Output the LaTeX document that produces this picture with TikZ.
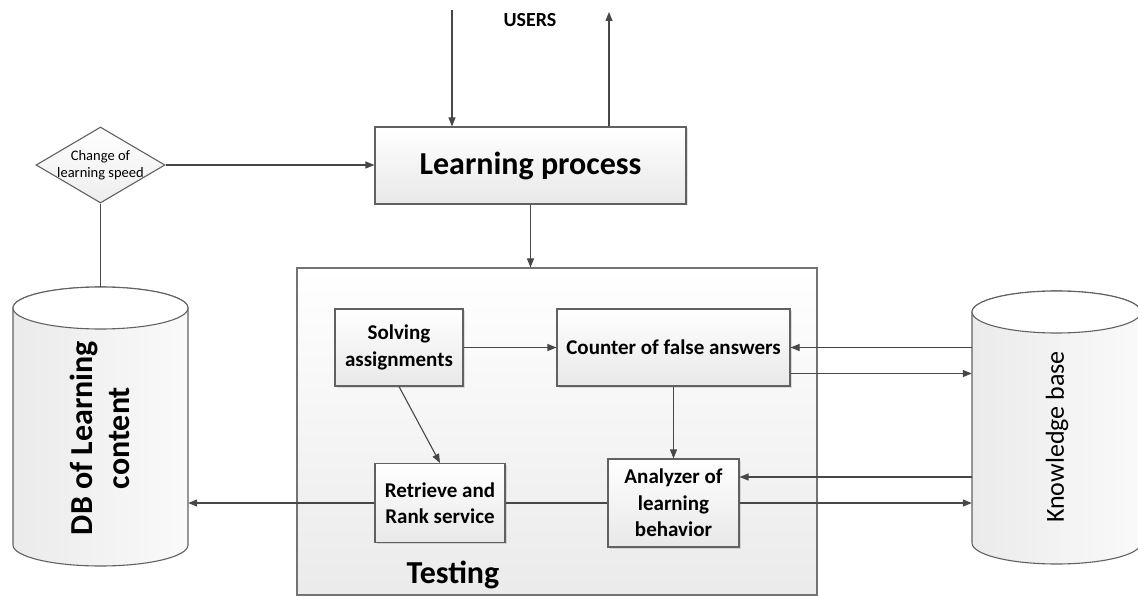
\documentclass[tikz,border=0pt]{standalone}
\usepackage{fontspec}
\setmainfont{Carlito}
\usetikzlibrary{arrows.meta,shapes.geometric,calc,shadows}
\begin{document}
\begin{tikzpicture}[x=1pt,y=-1pt,
  line/.style={draw=black!72, line width=1.1pt},
  arr/.style={line, -{Triangle[length=9pt,width=7pt]}},
  box/.style={draw=black!62, line width=1.1pt, top color=white, bottom color=gray!18,
    inner sep=0pt, align=center, font=\fontsize{21}{26.5}\selectfont\bfseries,
    drop shadow={opacity=0.25, shadow xshift=1.5pt, shadow yshift=-1.5pt}},
  cyl/.style={draw=black!62, line width=1.1pt, left color=gray!16, right color=gray!4},
  ghost/.style={inner sep=0pt, draw=none},
]
\useasboundingbox (0,0) rectangle (1138,596);

% Testing container
\node[draw=black!55, line width=1.1pt, top color=white, bottom color=gray!16,
  minimum width=520pt, minimum height=327pt, inner sep=0pt] (test) at (557,431.5) {};
\node[font=\fontsize{32}{36}\selectfont\bfseries] (tlabel) at (453,575) {Testing};

% Learning process
\node[box, minimum width=311pt, minimum height=77pt, font=\fontsize{32}{36}\selectfont\bfseries]
  (lp) at (530.5,165.5) {Learning process};
\node[font=\fontsize{20}{24}\selectfont\bfseries] (users) at (530,20) {USERS};
\coordinate (uin) at (452,10);
\coordinate (uout) at (609,12);

% Diamond
\node[diamond, aspect=1.7, draw=black!62, line width=1.1pt, top color=white, bottom color=gray!14,
  minimum width=129pt, minimum height=76pt, inner sep=0pt] (dia) at (100.5,165) {};
\node[align=center, font=\fontsize{14.5}{17}\selectfont, inner sep=0pt] (diatext) at (dia) {Change of\\learning speed};

% DB cylinder
\path[cyl] (13,308) -- (13,545)
  .. controls (13,556.6) and (52.2,566) .. (100.5,566)
  .. controls (148.8,566) and (188,556.6) .. (188,545)
  -- (188,308)
  .. controls (188,296.4) and (148.8,287) .. (100.5,287)
  .. controls (52.2,287) and (13,296.4) .. (13,308) -- cycle;
\draw[draw=black!62, line width=1.1pt, fill=white] (100.5,308) ellipse[x radius=87.5, y radius=21];
\node[ghost, minimum width=175pt, minimum height=237pt] (db) at (100.5,426.5) {};
\coordinate (dbtop) at (100.5,287);
\node[rotate=90, align=center, font=\fontsize{32}{37}\selectfont\bfseries] (dbtext) at (100,438) {DB of Learning\\content};

% Knowledge base cylinder
\path[cyl] (972,312) -- (972,543)
  .. controls (972,554.6) and (1009.8,564) .. (1056.5,564)
  .. controls (1103.2,564) and (1141,554.6) .. (1141,543)
  -- (1141,312)
  .. controls (1141,300.4) and (1103.2,291) .. (1056.5,291)
  .. controls (1009.8,291) and (972,300.4) .. (972,312) -- cycle;
\draw[draw=black!62, line width=1.1pt, fill=white] (1056.5,312) ellipse[x radius=84.5, y radius=21];
\node[ghost, minimum width=169pt, minimum height=231pt] (kb) at (1056.5,427.5) {};
\node[rotate=90, font=\fontsize{26}{30}\selectfont] (kbtext) at (1057,437) {Knowledge base};

% Inner boxes
\node[box, minimum width=128pt, minimum height=77pt] (sa) at (399,347.5) {Solving\\assignments};
\node[box, minimum width=233pt, minimum height=77pt] (cfa) at (673.5,347.5) {Counter of false answers};
\node[box, minimum width=130pt, minimum height=79pt] (rr) at (440,503) {Retrieve and\\Rank service};
\node[box, minimum width=131pt, minimum height=88pt] (an) at (673.5,503) {Analyzer of\\learning\\behavior};

% Connectors
\draw[arr] (uin) -- (uin |- lp.north);
\draw[arr] (uout |- lp.north) -- (uout);
\draw[arr] (dia.east) -- (dia.east -| lp.west);
\draw[line] (dia.south) -- (dia.south |- dbtop);
\draw[arr] (lp.south) -- (lp.south |- test.north);
\draw[arr] (sa.east) -- (cfa.west);
\draw[arr] (sa.south) -- (rr.north);
\draw[arr] (cfa.south) -- (an.north);
\draw[arr] (kb.west |- cfa.east) -- (cfa.east);
\coordinate (cfaout) at ($(cfa.east)+(0,26)$);
\draw[arr] (cfaout) -- (kb.west |- cfaout);
\coordinate (anin) at ($(an.east)+(0,-26)$);
\draw[arr] (kb.west |- anin) -- (anin);
\draw[arr] (an.east) -- (kb.west |- an.east);
\draw[line] (an.west) -- (rr.east);
\draw[arr] (rr.west) -- (rr.west -| db.east);
\end{tikzpicture}
\end{document}
